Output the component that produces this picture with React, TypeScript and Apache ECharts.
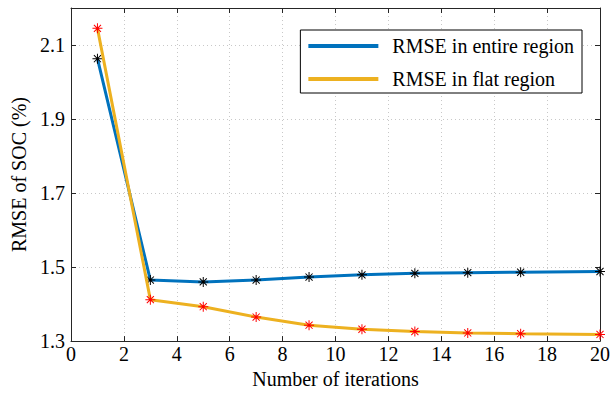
import React, { useEffect, useRef } from "react";
import * as echarts from "echarts";

const iterations = [1, 3, 5, 7, 9, 11, 13, 15, 17, 20];
const rmseEntire = [2.063, 1.465, 1.46, 1.465, 1.473, 1.479, 1.483, 1.485, 1.486, 1.488];
const rmseFlat = [2.145, 1.412, 1.393, 1.365, 1.343, 1.332, 1.326, 1.322, 1.32, 1.318];
const seriesNames = ["RMSE in entire region", "RMSE in flat region"];
const xTitle = "Number of iterations";
const yTitle = "RMSE of SOC (%)";

const ASTERISK =
  "path://M9 0H11V20H9Z M0 9H20V11H0Z M3.6 2.2L17.8 16.4L16.4 17.8L2.2 3.6Z M16.4 2.2L17.8 3.6L3.6 17.8L2.2 16.4Z";

const FONT = "Liberation Serif";

export default function App() {
  const ref = useRef<HTMLDivElement>(null);
  useEffect(() => {
    if (!ref.current) return;
    const chart = echarts.init(ref.current, undefined, { renderer: "svg" });
    const blue = "#0072BD";
    const yellow = "#EDB120";
    const axisCommon = {
      axisLine: { show: true, onZero: false, lineStyle: { color: "#262626", width: 1 } },
      axisTick: { show: true, inside: true, length: 5, lineStyle: { color: "#262626" } },
    };
    chart.setOption({
      animation: false,
      backgroundColor: "#fff",
      grid: { left: 71, right: 10, top: 8, bottom: 48, containLabel: false },
      xAxis: [
        {
          type: "value",
          min: 0,
          max: 20,
          interval: 2,
          ...axisCommon,
          axisLabel: { color: "#000", fontFamily: FONT, fontSize: 20, margin: 3 },
          splitLine: { show: true, lineStyle: { color: "#c8c8c8", type: [1, 3], width: 1 } },
          name: xTitle,
          nameLocation: "middle",
          nameGap: 24,
          nameTextStyle: { color: "#000", fontFamily: FONT, fontSize: 20 },
        },
        {
          type: "value",
          position: "top",
          min: 0,
          max: 20,
          interval: 2,
          ...axisCommon,
          axisLabel: { show: false },
          splitLine: { show: false },
        },
      ],
      yAxis: [
        {
          type: "value",
          min: 1.3,
          max: 2.2,
          interval: 0.2,
          ...axisCommon,
          axisLabel: {
            color: "#000",
            fontFamily: FONT,
            fontSize: 20,
            margin: 6,
            showMaxLabel: false,
            formatter: (v: number) => (Math.abs(v - 2.2) < 1e-6 ? "" : v.toFixed(1)),
          },
          splitLine: { show: true, lineStyle: { color: "#c8c8c8", type: [1, 3], width: 1 } },
          name: yTitle,
          nameLocation: "middle",
          nameGap: 41,
          nameTextStyle: { color: "#000", fontFamily: FONT, fontSize: 20 },
        },
        {
          type: "value",
          position: "right",
          min: 1.3,
          max: 2.2,
          interval: 0.2,
          ...axisCommon,
          axisLabel: { show: false },
          splitLine: { show: false },
        },
      ],
      legend: {
        orient: "vertical",
        right: 31,
        top: 30,
        itemWidth: 70,
        itemHeight: 4,
        itemGap: 13,
        padding: [6, 8, 4, 8],
        borderColor: "#000",
        borderWidth: 1,
        borderRadius: 0,
        backgroundColor: "#fff",
        textStyle: { color: "#000", fontFamily: FONT, fontSize: 20, padding: [0, 0, 0, 9] },
        data: [
          { name: seriesNames[0], icon: "rect", itemStyle: { color: blue } },
          { name: seriesNames[1], icon: "rect", itemStyle: { color: yellow } },
        ],
      },
      series: [
        {
          name: seriesNames[0],
          type: "line",
          data: iterations.map((x, i) => [x, rmseEntire[i]]),
          lineStyle: { color: blue, width: 3 },
          itemStyle: { color: "#000" },
          symbol: ASTERISK,
          symbolSize: 10,
          showSymbol: true,
          z: 3,
        },
        {
          name: seriesNames[1],
          type: "line",
          data: iterations.map((x, i) => [x, rmseFlat[i]]),
          lineStyle: { color: yellow, width: 3 },
          itemStyle: { color: "#ff0000" },
          symbol: ASTERISK,
          symbolSize: 10,
          showSymbol: true,
          z: 4,
        },
      ],
    });
    return () => chart.dispose();
  }, []);
  return <div ref={ref} style={{ width: 613, height: 394, position: "absolute", left: 0, top: 0 }} />;
}
